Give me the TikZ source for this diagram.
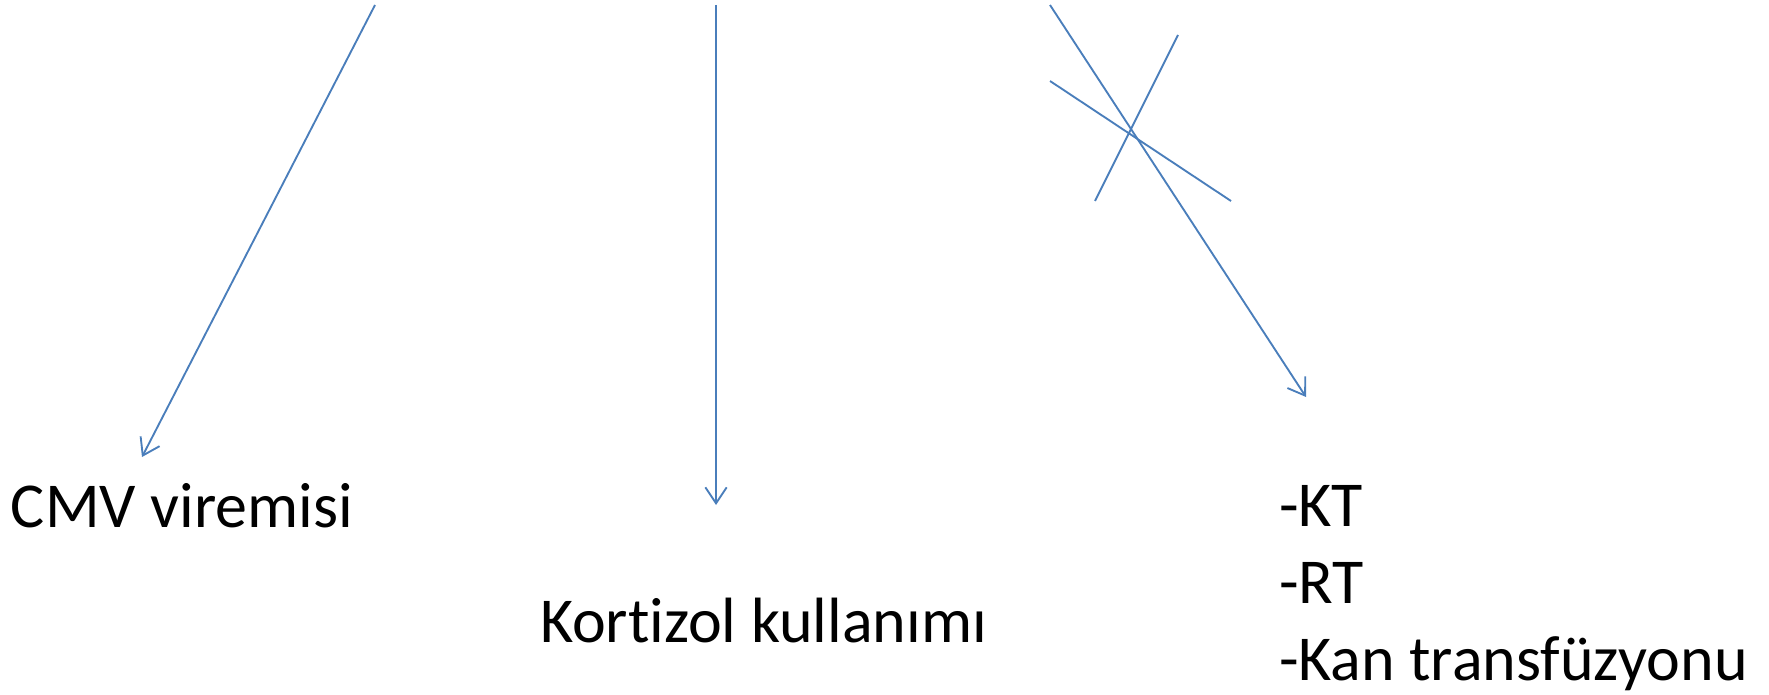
\documentclass[tikz,border=0pt]{standalone}
\usepackage{fontspec}
\setmainfont{Carlito}[Ligatures={NoCommon}]
\usetikzlibrary{arrows.meta}
\definecolor{lineblue}{HTML}{4A7EBB}
\tikzset{
  conn/.style={draw=lineblue, line width=1.4pt, -{Straight Barb[length=12pt,width=16pt,line width=1.4pt]}},
  strike/.style={draw=lineblue, line width=1.4pt},
  lbl/.style={anchor=base west, inner sep=0pt, outer sep=0pt, font=\fontsize{48}{57.4}\selectfont, align=left}
}
\begin{document}
\begin{tikzpicture}[x=0.75pt, y=-0.75pt]
\useasboundingbox (0,0) rectangle (1769,695);
% labels
\node[lbl] (cmv) at (11,527) {CMV viremisi};
\node[lbl] (kort) at (540,642) {Kortizol kullanımı};
\node[lbl] (risk) at (1279,680) {-KT\\-RT\\-Kan transfüzyonu};
% arrow ends
\coordinate (s1) at (375,5);
\coordinate (e1) at (142,457);
\coordinate (s2) at (716,5);
\coordinate (e2) at (716,505);
\coordinate (s3) at (1050,5);
\coordinate (e3) at (1306,397);
\coordinate (x1a) at (1050,81);
\coordinate (x1b) at (1231,201);
\coordinate (x2a) at (1178,35);
\coordinate (x2b) at (1095,201);
\draw[conn] (s1) -- (e1);
\draw[conn] (s2) -- (e2);
\draw[conn] (s3) -- (e3);
\draw[strike] (x1a) -- (x1b);
\draw[strike] (x2a) -- (x2b);
\end{tikzpicture}
\end{document}
